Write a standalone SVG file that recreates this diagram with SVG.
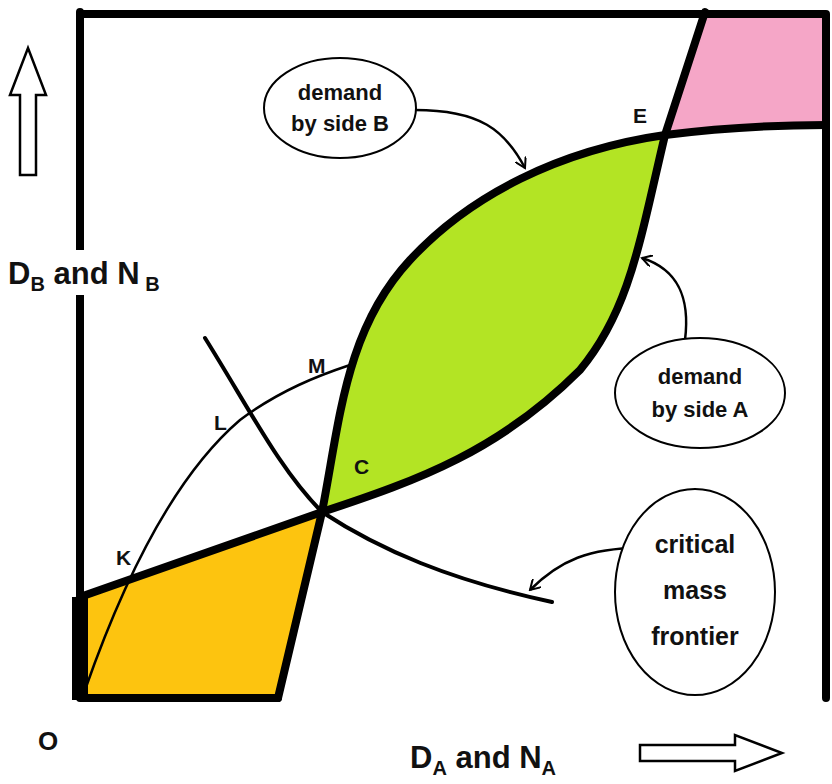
<svg xmlns="http://www.w3.org/2000/svg" width="832" height="784" viewBox="0 0 832 784">
<style>
.t{font-family:"Liberation Sans",Arial,sans-serif;font-weight:bold;fill:#111}
.thick{fill:none;stroke:#000;stroke-width:8;stroke-linecap:round;stroke-linejoin:round}
.thin{fill:none;stroke:#000;stroke-width:2.5}
.mid{fill:none;stroke:#000;stroke-width:4;stroke-linecap:round}
.ell{fill:#fff;stroke:#000;stroke-width:2}
</style>
<defs><marker id="ah" markerWidth="12" markerHeight="12" refX="10" refY="6" orient="auto" markerUnits="userSpaceOnUse"><path d="M0,0 L10,6 L0,12" fill="none" stroke="#000" stroke-width="2"/></marker></defs>
<rect width="832" height="784" fill="#fff"/>
<g id="regions">
<path d="M84,597 L322,512 L278,698 L84,698 Z" fill="#fdc40f"/>
<path d="M322,512 C340,420 345,330 410,260 C470,195 560,150 665,135 C640,240 630,310 580,370 C500,450 420,480 322,512 Z" fill="#b3e424"/>
<path d="M705,12 L665,135 C720,128 780,125 826,125 L826,12 Z" fill="#f5a6c7"/>
</g>
<g id="frame">
<path class="thick" d="M80,12 L80,698 L278,698 M80,14 L826,14 L826,698"/>
<path d="M80,597 L80,700" stroke="#000" stroke-width="16"/>
</g>
<g id="connectors">
<path class="thick" d="M278,698 L322,512 C340,420 345,330 410,260 C470,195 560,150 665,135 C720,128 780,125 826,125"/>
<path class="thick" d="M80,597 L322,512 C420,480 500,450 580,370 C630,310 640,240 665,135 L705,12"/>
<path class="mid" d="M205,338 C250,410 280,470 322,512 C380,550 450,580 552,602"/>
<path class="thin" d="M85,690 C120,590 170,480 240,420 C280,390 320,375 350,365"/>
<path class="thin" d="M415,110 C480,110 505,130 525,168" marker-end="url(#ah)"/>
<path class="thin" d="M685,340 C690,300 680,270 642,258" marker-end="url(#ah)"/>
<path class="thin" d="M640,548 C590,548 560,560 530,590" marker-end="url(#ah)"/>
</g>
<g id="axis-arrows">
<path d="M20,175 L36,175 L36,95 L46,95 L28,48 L10,95 L20,95 Z" fill="#fff" stroke="#000" stroke-width="2.5"/>
<path d="M640,745 L735,745 L735,735 L782,753 L735,771 L735,761 L640,761 Z" fill="#fff" stroke="#000" stroke-width="2.5"/>
</g>
<g id="labelB"><ellipse class="ell" cx="340" cy="108" rx="76" ry="50"/><text class="t" font-size="22" x="340" y="100" text-anchor="middle">demand</text><text class="t" font-size="22" x="340" y="131" text-anchor="middle">by side B</text></g>
<g id="labelA"><ellipse class="ell" cx="700" cy="393" rx="85" ry="55"/><text class="t" font-size="22" x="700" y="384" text-anchor="middle">demand</text><text class="t" font-size="22" x="700" y="417" text-anchor="middle">by side A</text></g>
<g id="labelC"><ellipse class="ell" cx="695" cy="592" rx="80" ry="103"/><text class="t" font-size="25" x="695" y="553" text-anchor="middle">critical</text><text class="t" font-size="25" x="695" y="599" text-anchor="middle">mass</text><text class="t" font-size="25" x="695" y="645" text-anchor="middle">frontier</text></g>
<g id="points">
<text class="t" font-size="21" x="633" y="123">E</text>
<text class="t" font-size="21" x="308" y="373">M</text>
<text class="t" font-size="21" x="214" y="430">L</text>
<text class="t" font-size="21" x="354" y="474">C</text>
<text class="t" font-size="21" x="116" y="565">K</text>
<text class="t" font-size="26" x="38" y="750">O</text>
</g>
<rect x="70" y="250" width="20" height="45" fill="#fff"/>
<text class="t" font-size="31" x="8" y="284">D<tspan font-size="20" dy="7">B</tspan><tspan dy="-7"> and N</tspan><tspan font-size="20" dy="7"> B</tspan></text>
<text class="t" font-size="31" x="410" y="768">D<tspan font-size="20" dy="7">A</tspan><tspan dy="-7"> and N</tspan><tspan font-size="20" dy="7">A</tspan></text>
</svg>
